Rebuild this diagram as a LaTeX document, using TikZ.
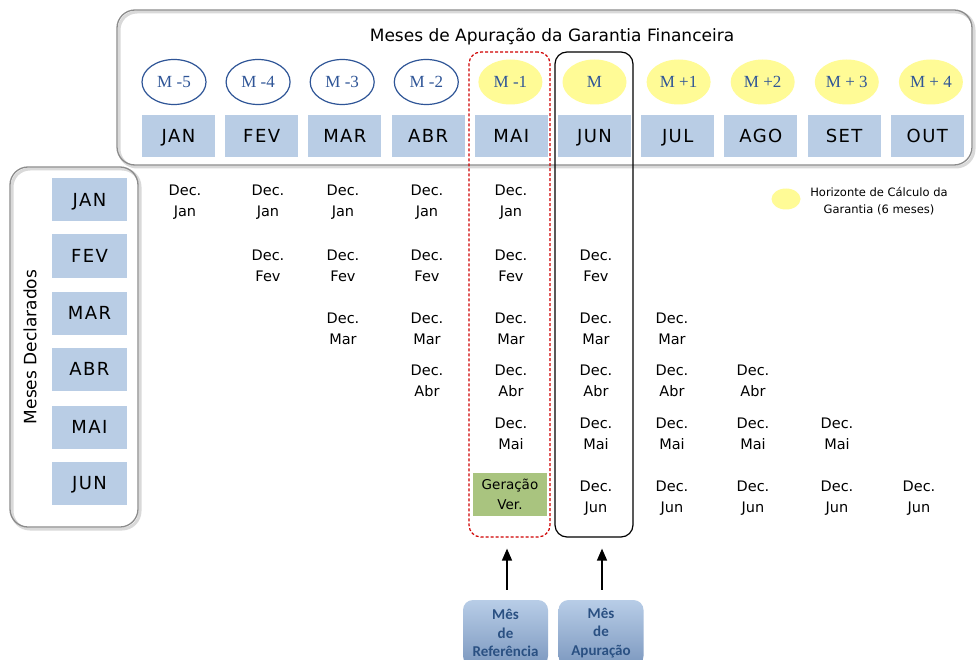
\documentclass[tikz,border=0pt]{standalone}
\usepackage{fontspec}
\setmainfont{DejaVu Sans}
\newfontfamily\monthfont[LetterSpace=8]{DejaVu Sans}
\newfontfamily\tagfont{Liberation Serif}
\newfontfamily\calfont{Carlito}
\usetikzlibrary{shapes.geometric,arrows.meta,calc}
\definecolor{monthfill}{HTML}{B9CDE5}
\definecolor{tagblue}{HTML}{2F5597}
\definecolor{horizon}{HTML}{FFFB96}
\definecolor{genfill}{HTML}{A9C47F}
\definecolor{refred}{HTML}{D00000}
\definecolor{ptrtop}{HTML}{B8CDE7}
\definecolor{ptrbot}{HTML}{7C98BF}
\definecolor{ptrtext}{HTML}{2A5082}
\begin{document}
\begin{tikzpicture}[x=1pt,y=-1pt,
  panel/.style={draw=black!45, line width=1.3pt, rounded corners=18pt},
  panelshade/.style={draw=black!15, line width=3pt, rounded corners=18pt},
  monthbox/.style={fill=monthfill, minimum width=73pt, minimum height=42pt, inner sep=0pt,
    text height=13pt, text depth=0pt, font=\monthfont\fontsize{18}{20}\selectfont},
  tag/.style={ellipse, draw=tagblue, line width=1.2pt, minimum width=64pt, minimum height=45pt,
    inner sep=0pt, text=tagblue, font=\tagfont\fontsize{17}{19}\selectfont},
  horizontag/.style={ellipse, fill=horizon, minimum width=64pt, minimum height=45pt,
    inner sep=0pt, text=tagblue, font=\tagfont\fontsize{17}{19}\selectfont},
  decl/.style={align=center, inner sep=0pt, font=\fontsize{14.5}{20.5}\selectfont},
  colframe/.style={rounded corners=12pt, line width=1.2pt, minimum height=485pt, inner sep=0pt},
  ptr/.style={rounded corners=10pt, top color=ptrtop, bottom color=ptrbot, minimum width=85pt,
    minimum height=66pt, inner sep=0pt, align=center, text=ptrtext,
    font=\calfont\bfseries\fontsize{15}{18.5}\selectfont},
  pointer/.style={-{Triangle[length=12pt,width=10pt]}, line width=1.5pt, shorten <=10pt, shorten >=11pt}
]
\clip (0,0) rectangle (976,660);
\fill[white] (0,0) rectangle (976,660);

% panels
\draw[panelshade] (119,12) rectangle (974,167);
\draw[panel] (117,10) rectangle (972,165);
\draw[panelshade] (12,169) rectangle (140,529);
\draw[panel] (10,167) rectangle (138,527);

\node[font=\fontsize{17}{20}\selectfont] (title) at (552,37) {Meses de Apuração da Garantia Financeira};

% calculation months
\foreach \i/\m in {0/JAN,1/FEV,2/MAR,3/ABR,4/MAI,5/JUN,6/JUL,7/AGO,8/SET,9/OUT}
  \node[monthbox] (top\i) at ({178.5+83.2*\i},136) {\m};

\foreach \i/\t in {0/{M -5},1/{M -4},2/{M -3},3/{M -2}}
  \node[tag] (tag\i) at ({174+84.1*\i},82) {\t};
\foreach \i/\t in {4/{M -1},5/{M},6/{M +1},7/{M +2},8/{M + 3},9/{M + 4}}
  \node[horizontag] (tag\i) at ({174+84.1*\i},82) {\t};

% declared months
\node[rotate=90, font=\fontsize{17}{20}\selectfont] (side) at (30,347) {Meses Declarados};
\foreach \r/\m/\y in {0/JAN/200,1/FEV/256,2/MAR/313,3/ABR/369,4/MAI/427,5/JUN/483}
  \node[monthbox, minimum width=75pt, minimum height=43pt] (left\r) at (89.5,\y) {\m};

% declarations
\foreach \r/\nm in {0/Jan,1/Fev,2/Mar,3/Abr,4/Mai,5/Jun}{
  \foreach \k in {0,...,4}{
    \pgfmathtruncatemacro\c{\r+\k}
    \pgfmathsetmacro\xx{{185,268,343,427,511,596,672,753,837,919}[\c]}
    \pgfmathsetmacro\yy{{202,266,329,381,434,498}[\r]}
    \node[decl] (d\r-\c) at (\xx,\yy) {Dec.\\\nm};
  }
}
\node[decl, fill=genfill, minimum width=74pt, minimum height=43pt, font=\fontsize{13.5}{20}\selectfont]
  (gen) at (510,494.5) {Geração\\Ver.};

% legend
\node[ellipse, fill=horizon, minimum width=29pt, minimum height=21pt, inner sep=0pt] (legdot) at (786,199) {};
\node[align=center, font=\fontsize{11.5}{17}\selectfont] (legtxt) at (879,201) {Horizonte de Cálculo da\\Garantia (6 meses)};

% reference and assessment columns
\node[colframe, draw=refred, dash pattern=on 3pt off 2pt, minimum width=81pt] (refcol) at (509.5,294.5) {};
\node[colframe, draw=black, minimum width=78pt] (apucol) at (594,294.5) {};

\node[ptr] (ref) at (505.5,633) {Mês\\de\\Referência};
\node[ptr] (apu) at (601,633) {Mês\\de\\Apuração};

\draw[pointer] ([xshift=1.5pt]ref.north) -- ([xshift=1.5pt]ref.north |- refcol.south);
\draw[pointer] ([xshift=1pt]apu.north) -- ([xshift=1pt]apu.north |- apucol.south);
\end{tikzpicture}
\end{document}
